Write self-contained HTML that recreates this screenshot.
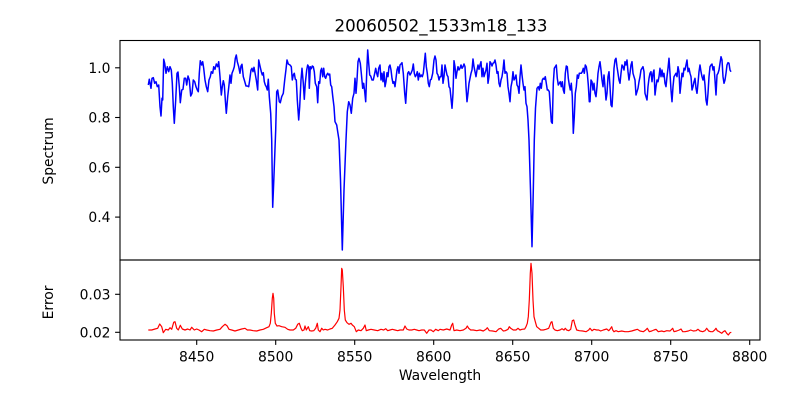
<!DOCTYPE html>
<html><head><meta charset="utf-8"><style>
html,body{margin:0;padding:0;background:#fff;}
svg{display:block;}
text{font-family:"DejaVu Sans","Liberation Sans",sans-serif;fill:#000;}
</style></head><body>
<svg width="800" height="400" viewBox="0 0 800 400" xmlns="http://www.w3.org/2000/svg">
<rect x="0" y="0" width="800" height="400" fill="#fff"/>
<text x="441" y="31.5" font-size="16.67" text-anchor="middle">20060502_1533m18_133</text>

<polyline fill="none" stroke="#0000ff" stroke-width="1.5" stroke-linejoin="round" points="148.3,85 149.3,79.3 151,88.3 152,78.3 153.3,77.7 154.7,83.3 156,81.7 157.3,86.7 158.7,85 160,106.7 161,116 162,98.3 162.7,100 163.7,59.3 164.7,63.3 166,73.3 167.3,66.7 168.7,71.7 170,66.7 171.3,70 172.3,83.3 173.3,106.7 174.3,123.3 175.7,100 177,73.3 178,72 179.3,86.7 180.3,102.7 181.7,90 183,89.3 184.3,78.3 185.7,78.3 186.7,85 188,76 189.3,80 190.7,96 192,93.3 193.3,80 194.7,81.7 196,86.7 197.3,90 198.3,91.7 199.3,73.3 200.3,60.7 201.7,65 202.7,61.7 203.7,68.3 205,80 206.3,86.7 207.7,91.7 209,80 210.3,76.7 211.3,71.7 212.7,73.3 213.7,66.7 215,69.3 216.3,64 217.7,66.7 218.7,61.7 220,76.7 221.3,95 222.3,86.7 223.3,80.7 224.3,85 225.3,100 226.3,113.3 227.7,96.7 229,85 230,75 231,83.3 232,73.3 233.3,70 234.3,66.7 235.3,58.3 236.3,55 237.3,61.7 238.7,66.7 240,73.3 241,66 242,64.3 243.3,76.7 244.3,80 246,86 247.3,86 248.7,86.7 249.7,80 251,70 252,68.3 253,71.7 254,67.3 255,72.7 256.3,80 257.7,90 258.7,60 260,66 261.3,71.7 262.3,75 263.3,72.7 264.3,81.7 265.3,85 266.3,86.7 267.3,90 268.3,79.3 269.3,96.7 270.7,113.3 271.7,140 272.7,207.3 274,175 275.7,130 276.7,91.7 277.7,90 279.3,101.7 280.3,102.7 281.7,96.7 283.3,93.3 284.7,80 286,69.3 287,60 288.3,64 290,65 291.3,66.7 292.3,80 293.3,75 294.3,73.3 295.3,79.3 296.3,80 297.3,100 298.7,120 299.7,106.7 301,80 302,68.3 303.3,83.3 304.3,99.3 305.3,83.3 306.7,70 307.7,65 308.7,66.7 309.3,88.3 310.3,66.7 311.3,68.7 312.3,66 313.3,66.7 314.3,71.7 315.3,83.3 316.7,86.7 317.7,102.7 318.7,81.7 319.7,83.3 320.7,70.7 321.7,68.3 322.7,76.7 323.7,68.3 324.7,76.7 325.7,78.3 326.7,75 327.7,73.3 328.7,75 329.7,74 330.7,85 331.7,86.7 332.7,96 334,106.7 335,121.7 336.7,125 337.7,131.7 339,140 340.5,180 342.3,250 344,190 346,140 347.3,111.7 348.7,101.7 350,105 351.3,113.3 352.7,98.3 354,93.3 355,78.3 356,93.3 357,80 358,61.7 359,58.3 360.3,63.3 361.3,73.3 362.7,88.3 363.7,83.3 364.7,91.7 365.7,101.7 366.7,73.3 367.7,50 368.7,63.3 369.7,75 370.7,76 372,80 373.3,80 374.7,73.3 375.7,68.3 376.7,73.3 377.7,76.7 378.7,68.3 380,65 381,80 382,73.3 383,81.7 384,71.7 385,86.7 386,81.7 387,72.7 388,76.7 389,66.7 390,65 391,70 392,78.3 393,83.3 394,81.7 395,86.7 396,78.3 397,70 398,66.7 399,73.3 400,65 401,64 402,62.7 403.3,73.3 404.7,93.3 405.7,103.3 406.7,86.7 407.7,73.3 408.7,71.7 410,75 411,73.3 412.3,70 413.3,64 414.3,73.3 415.3,76.7 416.3,75 417.3,71.7 418.3,80 419.3,73.3 420.3,76.7 421.3,75 422.3,76.7 423.3,73.3 424.3,63.3 425.3,53.3 426.3,66.7 427.3,73.3 428.3,83.3 429.3,86.7 430.3,80 431.3,79.3 432.7,73.3 434,60 435,56 436,60 437,73.3 438,75 439,80 440,76.7 441,76.7 442,65 443,83.3 444,76.7 445,65 446,70 447,75 448,76.7 449,86.7 450,88.3 451,98.3 452,108.3 453,93.3 454,60.7 455,66.7 456,78.3 457,71.7 458,66.7 459,70 460,68.3 461,65 462,68.3 463,66.7 464,64 465,66.7 466,86.7 467,101.7 468,93.3 469,83.3 470,78.3 471,73.3 472,70 473,59 474,66.7 475,71.7 476,76.7 477,70 478,65 479,69.3 480,65 481,61.7 482,76.7 483,68.3 484,76.7 485,73.3 486,70 487,63.3 488,83.3 489,76.7 490,61.7 491,63.3 492,66 493,63.3 494,62.7 495,60 496,65 497,73.3 498,71.7 499,83.3 500,86.7 501,80 502,76.7 503,70 504,60 505,73.3 506,71.7 507,73.3 508,86.7 509,93.3 510,101.7 511,86.7 512,81.7 513,71.7 514,80 515,78.3 516,75 517,85 518,86.7 519,93.3 520,76.7 521,65 522,75 523,83.3 524,90 525,86.7 526,103.3 527,106.7 528,120 529,140 530.5,190 532,246.7 533.3,190 534.3,140 535.5,108 537,88.3 538.3,86.7 539.3,90 540.3,83.3 541.3,88.3 542.3,80 543.3,78.3 544.3,79.3 545.3,76.7 546.3,83.3 547.3,90 548.3,90 549.3,91.7 550.3,106.7 551.3,121.7 552.3,123.3 553.3,83.3 554.3,68.3 555.3,66.7 556.3,65 557.3,78.3 558.3,85 559.3,83.3 560.3,81.7 561.3,86.7 562.3,81.7 563.3,90 564.3,93.3 565.3,73.3 566.3,66 567.3,66.7 568.3,78.3 569.3,85 570.3,90 571.3,83.3 572.3,96.7 573.3,133.3 574.3,116.7 575.3,93.3 576.3,86.7 577.3,75 578.3,78.3 579.3,73.3 580.3,73.3 581.3,73.3 582.3,71.7 583.3,68.3 584.3,73.3 585.3,65 586.3,66.7 587.3,73.3 588.3,85 589.3,101.7 590,101.7 591,80 592,81.7 593,90 594,83.3 595,93.3 596,96.7 597,86.7 598,73.3 599,66.7 600,61.7 601,70 602,80 603,86.7 604,75 605,86.7 606,100 607,93.3 608,76.7 609,71.7 610,86.7 611,105 612,106.7 613,90 614,68.3 615,60 616,58.3 617,66.7 618,73.3 619,80 620,83.3 621,73.3 622,65 623,66.7 624,70 625,61.7 626,65 627,60 628,71.7 629,80 630,73.3 631,65 632,61.7 633,73.3 634,76.7 635,80 636,95 637,91.7 638,88.3 639,81.7 640,76.7 641,70 642,68.3 643,66.7 644,71.7 645,93.3 646,96.7 647,100 648,86.7 649,78.3 650,73.3 651,71.7 652,81.7 653,73.3 654,70 655,95 656,86.7 657,80 658,81.7 659,76.7 660,68.3 661,76.7 662,70 663,76.7 664,73.3 665,83.3 666,86.7 667,76.7 668,68.3 669,58.3 670,73.3 671,90 672,101.7 673,86.7 674,76.7 675,75 676,73.3 677,76.7 678,66.7 679,71.7 680,93.3 681,83.3 682,73.3 683,76.7 684,68.3 685,70 686,65 687,60 688,71.7 689,68.3 690,73.3 691,76.7 692,90 693,86.7 694,81.7 695,78.3 696,88.3 697,93.3 698,83.3 699,71.7 700,65 701,71.7 702,76.7 703,80 704,75 705,85 706,100 707,105 708,93.3 709,76.7 710,66.7 711,65 712,64 713,70 714,66.7 715,80 716,95 717,75 718,73.3 719,70 720,63.3 721,56.7 722,60 723,76.7 724,83.3 725,80 726,73.3 727,65 728,62.7 729,63.3 730,70 731,71.7"/>

<polyline fill="none" stroke="#ff0000" stroke-width="1.2" stroke-linejoin="round" points="148.3,330 151.7,330 155,329 157.7,328.3 159.7,324 161.7,326.7 163.3,332.7 165.7,329.3 168.3,330 170,327.7 171.7,329.3 173.7,322.3 175,321.7 176.7,328.3 178.3,330 180.3,325.3 182.3,329 185,330 187.7,329 190,330 191.7,327.3 194.3,330 196.7,329 199,330 201.7,331.7 204.3,329.3 206.7,330 210,330.7 213.3,331 216.7,330 220,329.3 222.3,326.7 225,324.3 227,325.7 229,329.3 231.7,330 235,331 238.3,330 241.7,329 245,328.3 247.3,330 250,330 253.3,330.7 256.7,331 260,330 263.3,329.3 266.7,327.7 269,326.7 270.3,323.3 271.3,313.3 272.3,298.3 273,293.3 273.7,298.3 274.3,313.3 275.3,323.3 277,326 279,325.7 281.7,326.7 285,327.3 287.7,329.3 290,330 293.3,330 295.7,328.3 297.7,324.3 299.3,323.3 301,328.3 302.3,330.7 304,330 305,326 306.3,330 308.3,326.7 309.7,330.7 311.7,331 313.7,330.7 315.7,328.3 317.3,323.3 318.3,330 320,331.7 321.7,328.3 323.3,330 325,329.3 327.7,330 330,329 332.3,328.3 335,325 337.3,321.7 339,318.3 340,310 341,286.7 341.7,268.3 342.3,270 343.3,286.7 344.3,310 345.3,320 347,322.7 349,324.3 351,323.3 352.3,325 354.3,326.7 356.3,331.7 358.3,330 361,330.7 363.3,328.3 365,325 366.3,330.7 368.3,330 371,329.3 374.3,330 377.7,330.7 381,329.3 383.7,330 385.7,328.7 387.7,330.7 390,330 392.3,329.3 395,330 397.7,330.7 400,330 403.3,330 405,326 406.7,329 409,330 411.7,330 414.3,329.3 416.7,330 419,330.7 421.7,330 424.3,330 426.7,333.3 429,330 431,330 433.3,331.7 435.7,329.3 438.3,330.7 440,329.3 443.3,330 446.7,329 450,330 451.7,325 452.7,323.3 454,330.7 456.7,330 460,330.7 463.3,330 466,328.3 467.3,326 468.7,328.3 470.7,330 473.3,330 476.7,330.7 480,330 483.3,331 486,329.3 487.3,327.7 489.3,330.7 492.7,331 496,331.7 498.7,329 500.7,328.3 503.3,331 505.3,330.7 508,329.3 509.3,326.7 510.7,328.3 513.3,330 516,330 518,328.3 520,330 522,329.3 524.7,329 526,326.7 527.3,323.3 528.3,316.7 529.3,300 530.3,273.3 531,263.3 532,273.3 533,300 534,316.7 535.3,321.7 536.7,326.7 538.7,328.3 540.7,330 543.3,330 546,329.3 548.7,328.3 551,322.3 552,321.7 553.3,328.3 555,330 557.3,330.7 560,330 562,328.7 564,330 565.3,328.3 566.7,330 568.7,330.7 570.7,329.3 572.3,320.7 573.7,320 575,325 576.7,330 579.3,330.7 582.7,331 586,331.7 588.7,330 590,328.3 592,330.7 594,329.3 596.7,330 598.7,330 600.7,331 603.3,330 606.7,329 608.7,330.7 610,329.3 611.7,326.7 612.7,330 614,331.7 616,330.7 618.3,331.7 621.7,331 625,331.7 628.3,331.7 631.7,331 635,330 637.3,329.3 640,331 643.3,331.7 645.7,330 647.3,328.3 649.3,331.7 651.7,331 654,330 656,329.3 658.3,331.7 661.7,331 664,331.7 666.7,330.7 670,331 672.7,328.3 674,331.7 676.7,331 679.3,330 681,329 682.7,331.7 685,331.7 688.3,331 690.7,330 693.3,331 696,330.7 698,329.3 700,331 702.7,331.7 705,330.7 706.7,328.3 708.7,331 710.7,331.7 712.7,331.7 714.7,330 716,328.3 717.3,330.7 719.3,331.7 721.7,333.3 723.3,331.7 725,330.7 726.7,333.3 728.3,335 730,332.7 731.3,332.3"/>

<!-- axes frames -->
<rect x="120" y="40.5" width="640" height="219.5" fill="none" stroke="#000" stroke-width="1.1"/>
<rect x="120" y="260" width="640" height="80" fill="none" stroke="#000" stroke-width="1.1"/>

<!-- y ticks top -->
<g stroke="#000" stroke-width="1.1">
<line x1="115.1" y1="67.8" x2="120" y2="67.8"/>
<line x1="115.1" y1="117.5" x2="120" y2="117.5"/>
<line x1="115.1" y1="167.3" x2="120" y2="167.3"/>
<line x1="115.1" y1="217.1" x2="120" y2="217.1"/>
<line x1="115.1" y1="294.3" x2="120" y2="294.3"/>
<line x1="115.1" y1="332.3" x2="120" y2="332.3"/>
<line x1="196.7" y1="340" x2="196.7" y2="344.9"/>
<line x1="275.7" y1="340" x2="275.7" y2="344.9"/>
<line x1="354.7" y1="340" x2="354.7" y2="344.9"/>
<line x1="433.7" y1="340" x2="433.7" y2="344.9"/>
<line x1="512.7" y1="340" x2="512.7" y2="344.9"/>
<line x1="591.7" y1="340" x2="591.7" y2="344.9"/>
<line x1="670.7" y1="340" x2="670.7" y2="344.9"/>
<line x1="749.7" y1="340" x2="749.7" y2="344.9"/>
</g>
<g font-size="13.89" text-anchor="end">
<text x="110.5" y="72.9">1.0</text>
<text x="110.5" y="122.6">0.8</text>
<text x="110.5" y="172.4">0.6</text>
<text x="110.5" y="222.2">0.4</text>
<text x="110.5" y="299.4">0.03</text>
<text x="110.5" y="337.4">0.02</text>
</g>
<g font-size="13.89" text-anchor="middle">
<text x="196.7" y="361.5">8450</text>
<text x="275.7" y="361.5">8500</text>
<text x="354.7" y="361.5">8550</text>
<text x="433.7" y="361.5">8600</text>
<text x="512.7" y="361.5">8650</text>
<text x="591.7" y="361.5">8700</text>
<text x="670.7" y="361.5">8750</text>
<text x="749.7" y="361.5">8800</text>
<text x="440" y="380">Wavelength</text>
<text transform="translate(53,151) rotate(-90)">Spectrum</text>
<text transform="translate(53,302.5) rotate(-90)">Error</text>
</g>
</svg>
</body></html>
